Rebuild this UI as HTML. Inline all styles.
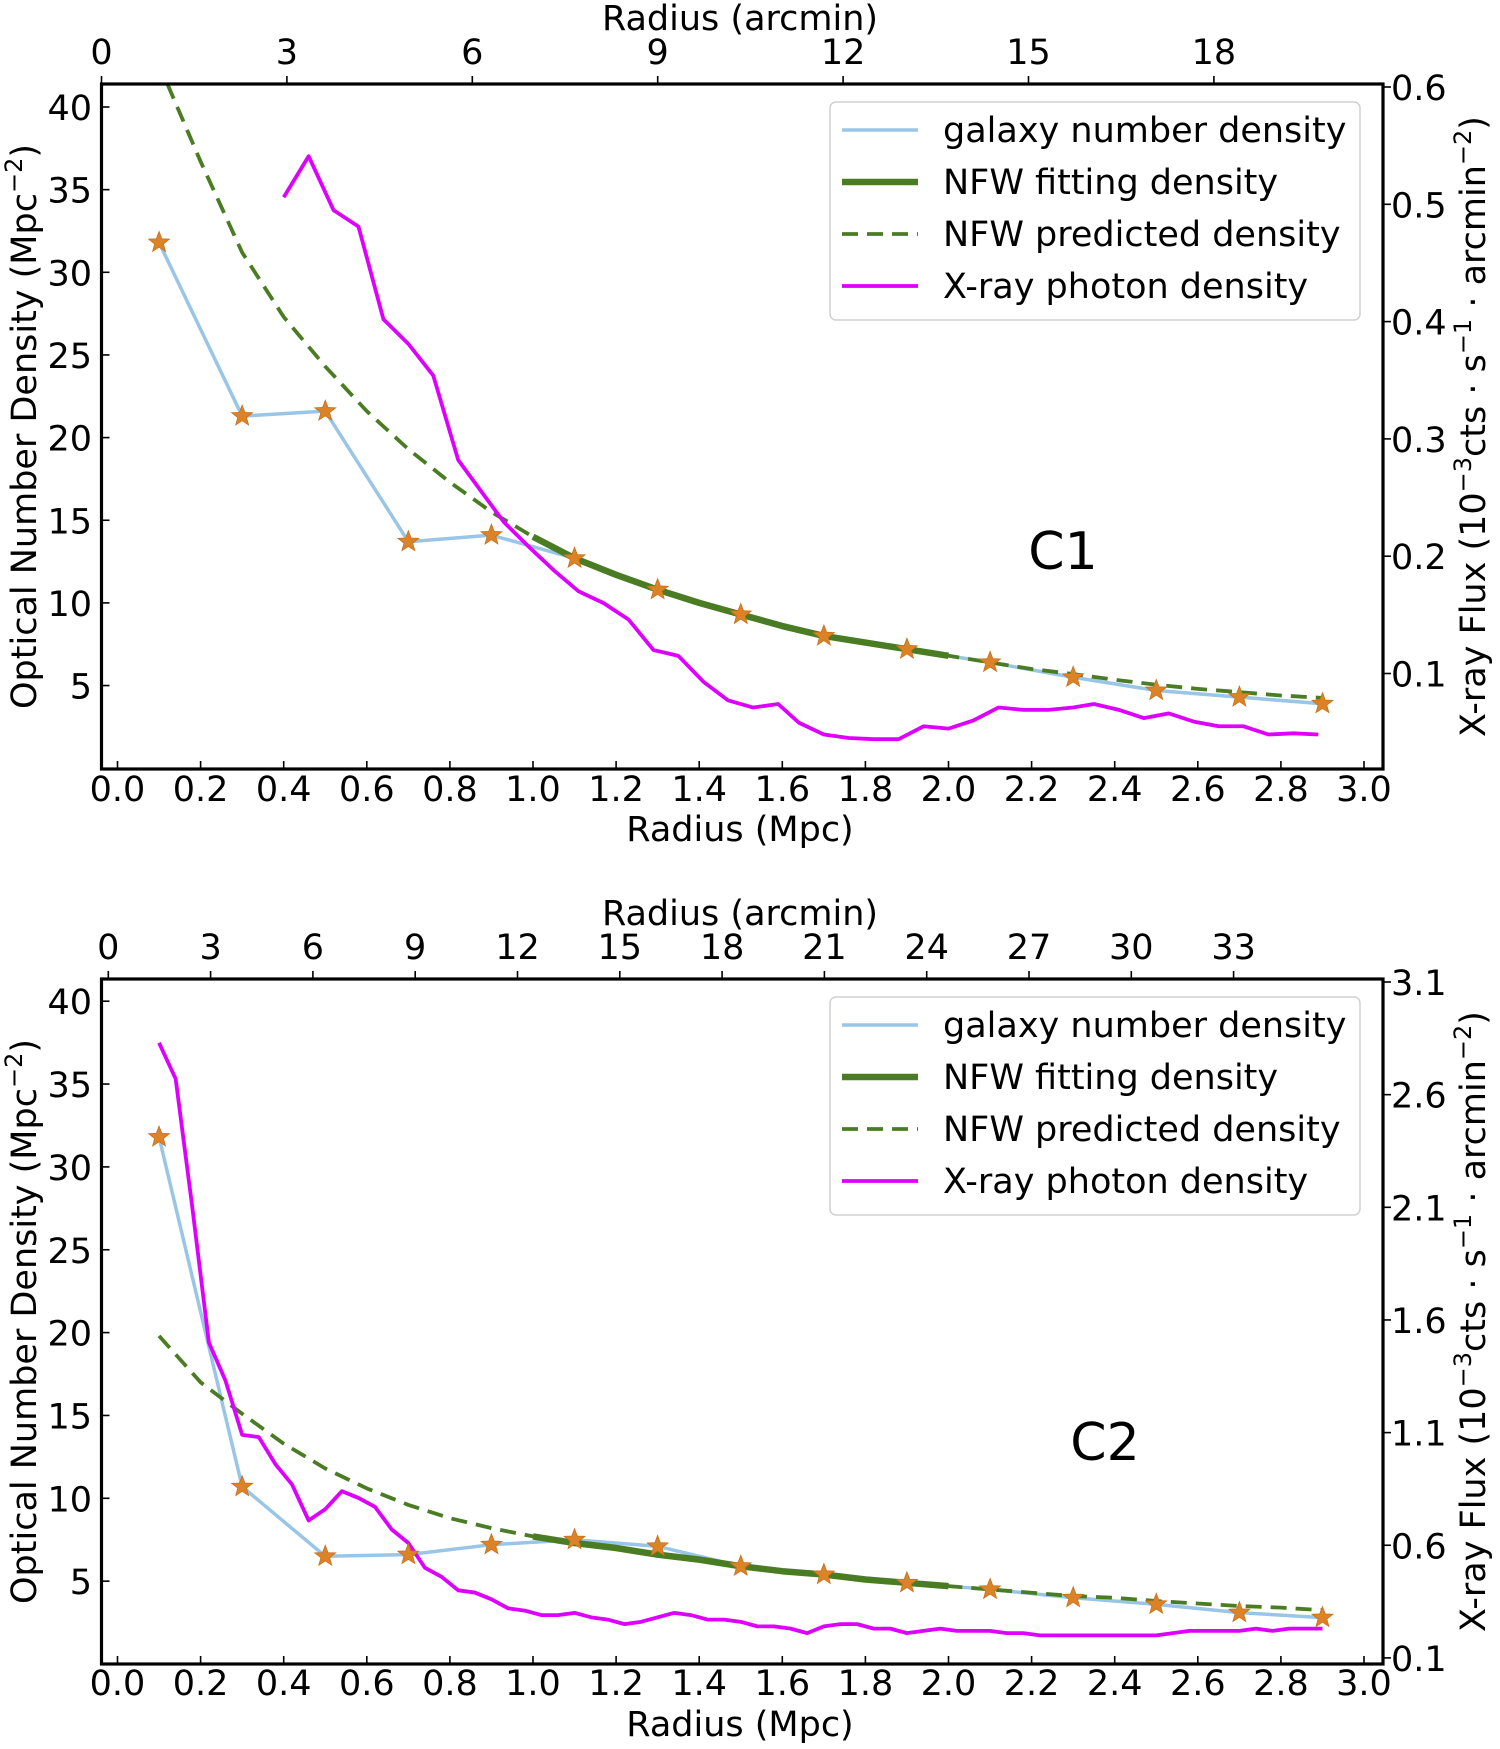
<!DOCTYPE html>
<html><head><meta charset="utf-8"><style>
html,body{margin:0;padding:0;background:#fff;}
svg{display:block;font-family:"DejaVu Sans","Liberation Sans",sans-serif;}
</style></head><body>
<svg id="fig" width="1500" height="1749" viewBox="0 0 1500 1749" xmlns="http://www.w3.org/2000/svg"></svg>
<script>
// ---------- data ----------
const galR = [0.1,0.3,0.5,0.7,0.9,1.1,1.3,1.5,1.7,1.9,2.1,2.3,2.5,2.7,2.9];
const galC1 = [31.8,21.3,21.6,13.7,14.1,12.7,10.8,9.3,8.0,7.2,6.4,5.5,4.7,4.3,3.9];
const galC2 = [31.8,10.7,6.5,6.6,7.2,7.5,7.1,5.9,5.4,4.9,4.5,4.0,3.6,3.1,2.8];

const nfwR = [0.12,0.2,0.3,0.4,0.5,0.6,0.7,0.8,0.9,1.0,1.1,1.2,1.3,1.4,1.5,1.6,1.7,1.8,1.9,2.0,2.1,2.2,2.3,2.4,2.5,2.6,2.7,2.8,2.9];
const nfwC1 = [41.4,36.7,31.2,27.3,24.3,21.6,19.3,17.3,15.5,14.0,12.7,11.7,10.8,10.0,9.3,8.6,8.0,7.6,7.2,6.8,6.4,6.0,5.7,5.35,5.05,4.8,4.6,4.4,4.25];
const nfwR2 = [0.1,0.2,0.3,0.4,0.5,0.6,0.7,0.8,0.9,1.0,1.1,1.2,1.3,1.4,1.5,1.6,1.7,1.8,1.9,2.0,2.1,2.2,2.3,2.4,2.5,2.6,2.7,2.8,2.9];
const nfwC2 = [19.8,17.0,15.1,13.3,11.8,10.6,9.6,8.8,8.2,7.7,7.3,7.0,6.6,6.3,5.9,5.6,5.4,5.1,4.9,4.7,4.5,4.3,4.1,4.0,3.8,3.65,3.5,3.4,3.25];
const fitRange = [1.0, 2.0];

const xrR1 = [0.40,0.46,0.52,0.58,0.64,0.70,0.76,0.82,0.88,0.93,0.99,1.05,1.11,1.17,1.23,1.29,1.35,1.41,1.47,1.53,1.59,1.64,1.70,1.76,1.82,1.88,1.94,2.00,2.06,2.12,2.18,2.24,2.30,2.35,2.41,2.47,2.53,2.59,2.65,2.71,2.77,2.83,2.89];
const xrC1 = [0.506,0.541,0.495,0.481,0.402,0.381,0.354,0.282,0.253,0.229,0.208,0.188,0.170,0.160,0.146,0.120,0.115,0.093,0.077,0.071,0.074,0.058,0.048,0.045,0.044,0.044,0.055,0.053,0.060,0.071,0.069,0.069,0.071,0.074,0.069,0.062,0.066,0.059,0.055,0.055,0.048,0.049,0.048];
const xrR2 = [0.10,0.14,0.18,0.22,0.26,0.30,0.34,0.38,0.42,0.46,0.50,0.54,0.58,0.62,0.66,0.70,0.74,0.78,0.82,0.86,0.90,0.94,0.98,1.02,1.06,1.10,1.14,1.18,1.22,1.26,1.30,1.34,1.38,1.42,1.46,1.50,1.54,1.58,1.62,1.66,1.70,1.74,1.78,1.82,1.86,1.90,1.94,1.98,2.02,2.06,2.10,2.14,2.18,2.22,2.26,2.30,2.34,2.38,2.42,2.46,2.50,2.54,2.58,2.62,2.66,2.70,2.74,2.78,2.82,2.86,2.90];
const xrC2 = [2.83,2.67,2.10,1.50,1.33,1.09,1.08,0.96,0.87,0.71,0.76,0.84,0.81,0.77,0.67,0.61,0.50,0.46,0.40,0.39,0.36,0.32,0.31,0.29,0.29,0.30,0.28,0.27,0.25,0.26,0.28,0.30,0.29,0.27,0.27,0.26,0.24,0.24,0.23,0.21,0.24,0.25,0.25,0.23,0.23,0.21,0.22,0.23,0.22,0.22,0.22,0.21,0.21,0.20,0.20,0.20,0.20,0.20,0.20,0.20,0.20,0.21,0.22,0.22,0.22,0.22,0.23,0.22,0.23,0.23,0.23];

const xTicks = [0.0,0.2,0.4,0.6,0.8,1.0,1.2,1.4,1.6,1.8,2.0,2.2,2.4,2.6,2.8,3.0];
const yTicks = [5,10,15,20,25,30,35,40];
const arcTicks1 = [0,3,6,9,12,15,18];
const arcTicks2 = [0,3,6,9,12,15,18,21,24,27,30,33];
const rTicks1 = [0.1,0.2,0.3,0.4,0.5,0.6];
const rTicks2 = [0.1,0.6,1.1,1.6,2.1,2.6,3.1];
const legendLabels = ["galaxy number density","NFW fitting density","NFW predicted density","X-ray photon density"];

// ---------- drawing ----------
const NS = "http://www.w3.org/2000/svg";
const svg = document.getElementById("fig");
function mk(tag, attrs, parent){
  const e = document.createElementNS(NS, tag);
  for (const k in attrs) e.setAttribute(k, attrs[k]);
  (parent||svg).appendChild(e);
  return e;
}
const X0 = 117.5, XS = 415.5, LEFT = 101.5, RIGHT = 1383;
function sx(v){ return X0 + v*XS; }
const FS = 35;

function starPts(cx, cy, R){
  const r = R*0.42; const pts = [];
  for (let i=0;i<10;i++){
    const a = -Math.PI/2 + i*Math.PI/5; const rr = i%2 ? r : R;
    pts.push((cx+rr*Math.cos(a)).toFixed(1)+","+(cy+rr*Math.sin(a)).toFixed(1));
  }
  return pts.join(" ");
}

function panel(p){
  const g = mk("g", {});
  
  
  const sy = v => p.y0 - v*p.ys;
  const syR = v => p.rTop + (p.rMax - v)*p.rs;
  const sxA = v => p.aX0 + v*p.aS;
  const top = p.top, bot = p.bot;

  const cid = "clip"+p.id;
  const cp = mk("clipPath", {id:cid}, g);
  mk("rect", {x:LEFT, y:top, width:RIGHT-LEFT, height:bot-top}, cp);
  const plot = mk("g", {"clip-path":"url(#"+cid+")"}, g);

  const gl = mk("polyline", {points: galR.map((r,i)=>sx(r)+","+sy(p.gal[i])).join(" "), fill:"none", stroke:"#99c5e6", "stroke-width":3.5, "stroke-linejoin":"round"}, plot);
  
  
  const nd = mk("polyline", {points: p.nfwR.map((r,i)=>sx(r)+","+sy(p.nfw[i])).join(" "), fill:"none", stroke:"#4a7d23", "stroke-width":3.8, "stroke-dasharray":"16,9"}, plot);
  
  
  const fitPts = [];
  p.nfwR.forEach((r,i)=>{ if (r>=fitRange[0]-1e-9 && r<=fitRange[1]+1e-9) fitPts.push(sx(r)+","+sy(p.nfw[i])); });
  const nf = mk("polyline", {points: fitPts.join(" "), fill:"none", stroke:"#4a7d23", "stroke-width":6.5, "stroke-linejoin":"round"}, plot);
  
  
  const xl = mk("polyline", {points: p.xrR.map((r,i)=>sx(r)+","+syR(p.xr[i])).join(" "), fill:"none", stroke:"#dd00ff", "stroke-width":3.8, "stroke-linejoin":"round"}, plot);
  
  
  galR.forEach((r,i)=>{
    const s = mk("polygon", {points: starPts(sx(r), sy(p.gal[i]), 11), fill:"#dc8328", stroke:"#c8701a", "stroke-width":0.8}, plot);
    
    
  });

  const fr = mk("rect", {x:LEFT, y:top, width:RIGHT-LEFT, height:bot-top, fill:"none", stroke:"#000", "stroke-width":3.2}, g);
  
  

  xTicks.forEach(t=>{
    mk("line", {x1:sx(t), x2:sx(t), y1:bot, y2:bot-8, stroke:"#000", "stroke-width":1.6}, g);
    const tx = mk("text", {x:sx(t), y:p.xLabY, "text-anchor":"middle", "font-size":FS}, g);
    tx.textContent = t.toFixed(1);
    
    
  });
  yTicks.forEach(t=>{
    mk("line", {x1:LEFT, x2:LEFT+8, y1:sy(t), y2:sy(t), stroke:"#000", "stroke-width":1.6}, g);
    const tx = mk("text", {x:92, y:sy(t)+13, "text-anchor":"end", "font-size":FS}, g);
    tx.textContent = t;
    
    
  });
  p.rTicks.forEach(t=>{
    mk("line", {x1:RIGHT, x2:RIGHT+8, y1:syR(t), y2:syR(t), stroke:"#000", "stroke-width":1.6}, g);
    const tx = mk("text", {x:1391, y:syR(t)+13, "text-anchor":"start", "font-size":FS}, g);
    tx.textContent = t.toFixed(1);
    
    
  });
  p.arcTicks.forEach(t=>{
    mk("line", {x1:sxA(t), x2:sxA(t), y1:top, y2:top-8, stroke:"#000", "stroke-width":1.6}, g);
    const tx = mk("text", {x:sxA(t), y:top-20, "text-anchor":"middle", "font-size":FS}, g);
    tx.textContent = t;
    
    
  });

  const t1 = mk("text", {x:740, y:top-54, "text-anchor":"middle", "font-size":FS}, g);
  t1.textContent = "Radius (arcmin)";
  
  
  const t2 = mk("text", {x:740, y:bot+72, "text-anchor":"middle", "font-size":FS}, g);
  t2.textContent = "Radius (Mpc)";
  
  
  const cy = (top+bot)/2;
  const t3 = mk("text", {x:0, y:0, "text-anchor":"middle", "font-size":FS, transform:"translate(36,"+cy+") rotate(-90)"}, g);
  t3.innerHTML = 'Optical Number Density (Mpc<tspan dy="-14" font-size="24">−2</tspan><tspan dy="14">)</tspan>';
  
  
  const t4 = mk("text", {x:0, y:0, "text-anchor":"middle", "font-size":FS, transform:"translate(1485,"+cy+") rotate(-90)"}, g);
  t4.innerHTML = 'X-ray Flux (10<tspan dy="-14" font-size="24">−3</tspan><tspan dy="14">cts · s</tspan><tspan dy="-14" font-size="24">−1</tspan><tspan dy="14"> · arcmin</tspan><tspan dy="-14" font-size="24">−2</tspan><tspan dy="14">)</tspan>';
  
  

  const cl = mk("text", {x:p.clX, y:p.clY, "text-anchor":"middle", "font-size":52}, g);
  cl.textContent = p.label;
  
  

  const lg = mk("g", {}, g);
  
  
  const lt = top + 18;
  mk("rect", {x:830, y:lt, width:530, height:218, rx:6, fill:"#fff", "fill-opacity":0.85, stroke:"#d0d0d0", "stroke-width":1.5}, lg);
  const styles = [
    {stroke:"#99c5e6", w:3.5, d:""},
    {stroke:"#4a7d23", w:6.5, d:""},
    {stroke:"#4a7d23", w:3.8, d:"16,9"},
    {stroke:"#dd00ff", w:3.8, d:""}
  ];
  legendLabels.forEach((lab,i)=>{
    const ry = lt + 28 + i*52;
    const e = mk("g", {}, lg);
    
    
    const a = {x1:842, x2:918, y1:ry, y2:ry, stroke:styles[i].stroke, "stroke-width":styles[i].w};
    if (styles[i].d) a["stroke-dasharray"] = styles[i].d;
    mk("line", a, e);
    const tx = mk("text", {x:943, y:ry+12, "font-size":FS}, e);
    tx.textContent = lab;
  });
}

panel({id:1, name:"panel-c1", top:84, bot:769, y0:768.2, ys:16.53,
  rTop:87, rMax:0.6, rs:1173, rTicks:rTicks1,
  aX0:101.5, aS:61.8, arcTicks:arcTicks1,
  xLabY:801, gal:galC1, nfwR:nfwR, nfw:nfwC1, xrR:xrR1, xr:xrC1,
  label:"C1", clX:1063, clY:569});
panel({id:2, name:"panel-c2", top:979, bot:1664, y0:1664, ys:16.57,
  rTop:982, rMax:3.1, rs:225.3, rTicks:rTicks2,
  aX0:108.3, aS:34.1, arcTicks:arcTicks2,
  xLabY:1695, gal:galC2, nfwR:nfwR2, nfw:nfwC2, xrR:xrR2, xr:xrC2,
  label:"C2", clX:1105, clY:1460});
</script>
</body></html>
